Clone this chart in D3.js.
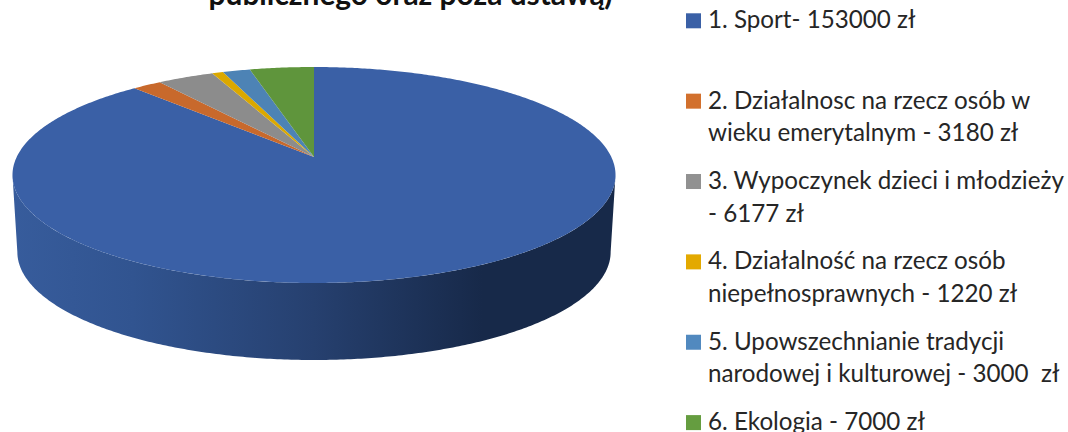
<!DOCTYPE html>
<html>
<head>
<meta charset="utf-8">
<title>Pie 3D</title>
<script src="https://d3js.org/d3.v7.min.js"></script>
<style type="text/css">
	html, body { margin: 0; padding: 0; background: #fff; overflow: hidden; }
	svg { display: block; }
	text { font-family: Lato, "Open Sans", sans-serif; fill: #262626; }
</style>
</head>
<body>
<script type="text/javascript">

var categories = ['Sport', 'Działalnosc', 'Wypoczynek', 'Działalność', 'Upowszechnianie', 'Ekologia'];
var values = [153000, 3180, 6177, 1220, 3000, 7000];
var colors = ['#3a60a6', '#c8692c', '#8c8c8c', '#dba800', '#4d83b5', '#5f953c'];
var swatchColors = ['#3a60a6', '#d2702d', '#919191', '#e3a900', '#5189bf', '#659d40'];
var legendLines = [
	['1. Sport- 153000 zł'],
	['2. Działalnosc na rzecz osób w', 'wieku emerytalnym - 3180 zł'],
	['3. Wypoczynek dzieci i młodzieży', '- 6177 zł'],
	['4. Działalność na rzecz osób', 'niepełnosprawnych - 1220 zł'],
	['5. Upowszechnianie tradycji', 'narodowej i kulturowej - 3000  zł'],
	['6. Ekologia - 7000 zł']
];
var titleLine = 'publicznego oraz poza ustawą)';

var width = 1068, height = 432;

var svg = d3.select('body').append('svg')
	.attr('width', width)
	.attr('height', height);

// the disc is a tilted circle, so the near half has to look bigger than the far one
var tilt = 1 / 6;

function project(angle, o) {
	var u = Math.sin(angle), v = -Math.cos(angle);
	var den = 1 - tilt * v;
	return [o.x + o.a * u / den, o.y + o.b * v / den];
}

var topDisc = { x: 314, y: 157, a: 297.3, b: 105 };
var bottomDisc = { x: 314, y: 234, a: 292.5, b: 105 };

var pie = d3.pie().sort(null).value(function(d) { return d; });
var arcs = pie(values);

var line = d3.line();

function rim(start, end, o) {
	var n = Math.max(2, Math.ceil((end - start) / 0.01));
	return d3.range(n + 1).map(function(i) {
		return project(start + (end - start) * i / n, o);
	});
}

// side wall, front half only
var defs = svg.append('defs');
var grad = defs.append('linearGradient')
	.attr('id', 'wall')
	.attr('gradientUnits', 'userSpaceOnUse')
	.attr('x1', 12).attr('x2', 615).attr('y1', 0).attr('y2', 0);
var wallStops = [[0, '#375c9c'], [0.2, '#315490'], [0.5, '#26406f'], [0.78, '#172949'], [1, '#172949']];
grad.selectAll('stop')
	.data(wallStops)
	.enter()
	.append('stop')
	.attr('offset', function(d) { return d[0]; })
	.attr('stop-color', function(d) { return d[1]; });

// angle where the rim is widest on each side
var wallStart = Math.acos(-tilt);
var wallEnd = 2 * Math.PI - wallStart;

var wallPts = rim(wallStart, wallEnd, topDisc).concat(rim(wallStart, wallEnd, bottomDisc).reverse());
svg.append('path')
	.attr('d', line(wallPts) + 'Z')
	.attr('fill', 'url(#wall)');

svg.selectAll('path.slice')
	.data(arcs)
	.enter()
	.append('path')
	.attr('class', 'slice')
	.attr('fill', function(d, i) { return colors[i]; })
	.attr('d', function(d) {
		return line([[topDisc.x, topDisc.y]].concat(rim(d.startAngle, d.endAngle, topDisc))) + 'Z';
	});

// title, clipped by the top of the picture
svg.append('text')
	.attr('x', 410.5)
	.attr('y', 5)
	.attr('text-anchor', 'middle')
	.attr('font-size', 29.9)
	.attr('font-weight', 700)
	.style('fill', '#111')
	.text(titleLine);

// legend
var legendY = d3.scalePoint()
	.domain(categories)
	.range([20.8, 422.6]);

var legend = svg.selectAll('g.item')
	.data(categories)
	.enter()
	.append('g')
	.attr('class', 'item')
	.attr('transform', function(d) { return 'translate(686,' + legendY(d) + ')'; });

legend.append('rect')
	.attr('x', 0)
	.attr('y', -7.5)
	.attr('width', 15)
	.attr('height', 15)
	.attr('fill', function(d, i) { return swatchColors[i]; });

legend.each(function(d, i) {
	d3.select(this).selectAll('text')
		.data(legendLines[i])
		.enter()
		.append('text')
		.attr('x', 22)
		.attr('y', function(t, j) { return 7.5 + j * 32.5; })
		.attr('font-size', 24.2)
		.style('white-space', 'pre')
		.text(function(t) { return t; });
});

</script>
</body>
</html>
